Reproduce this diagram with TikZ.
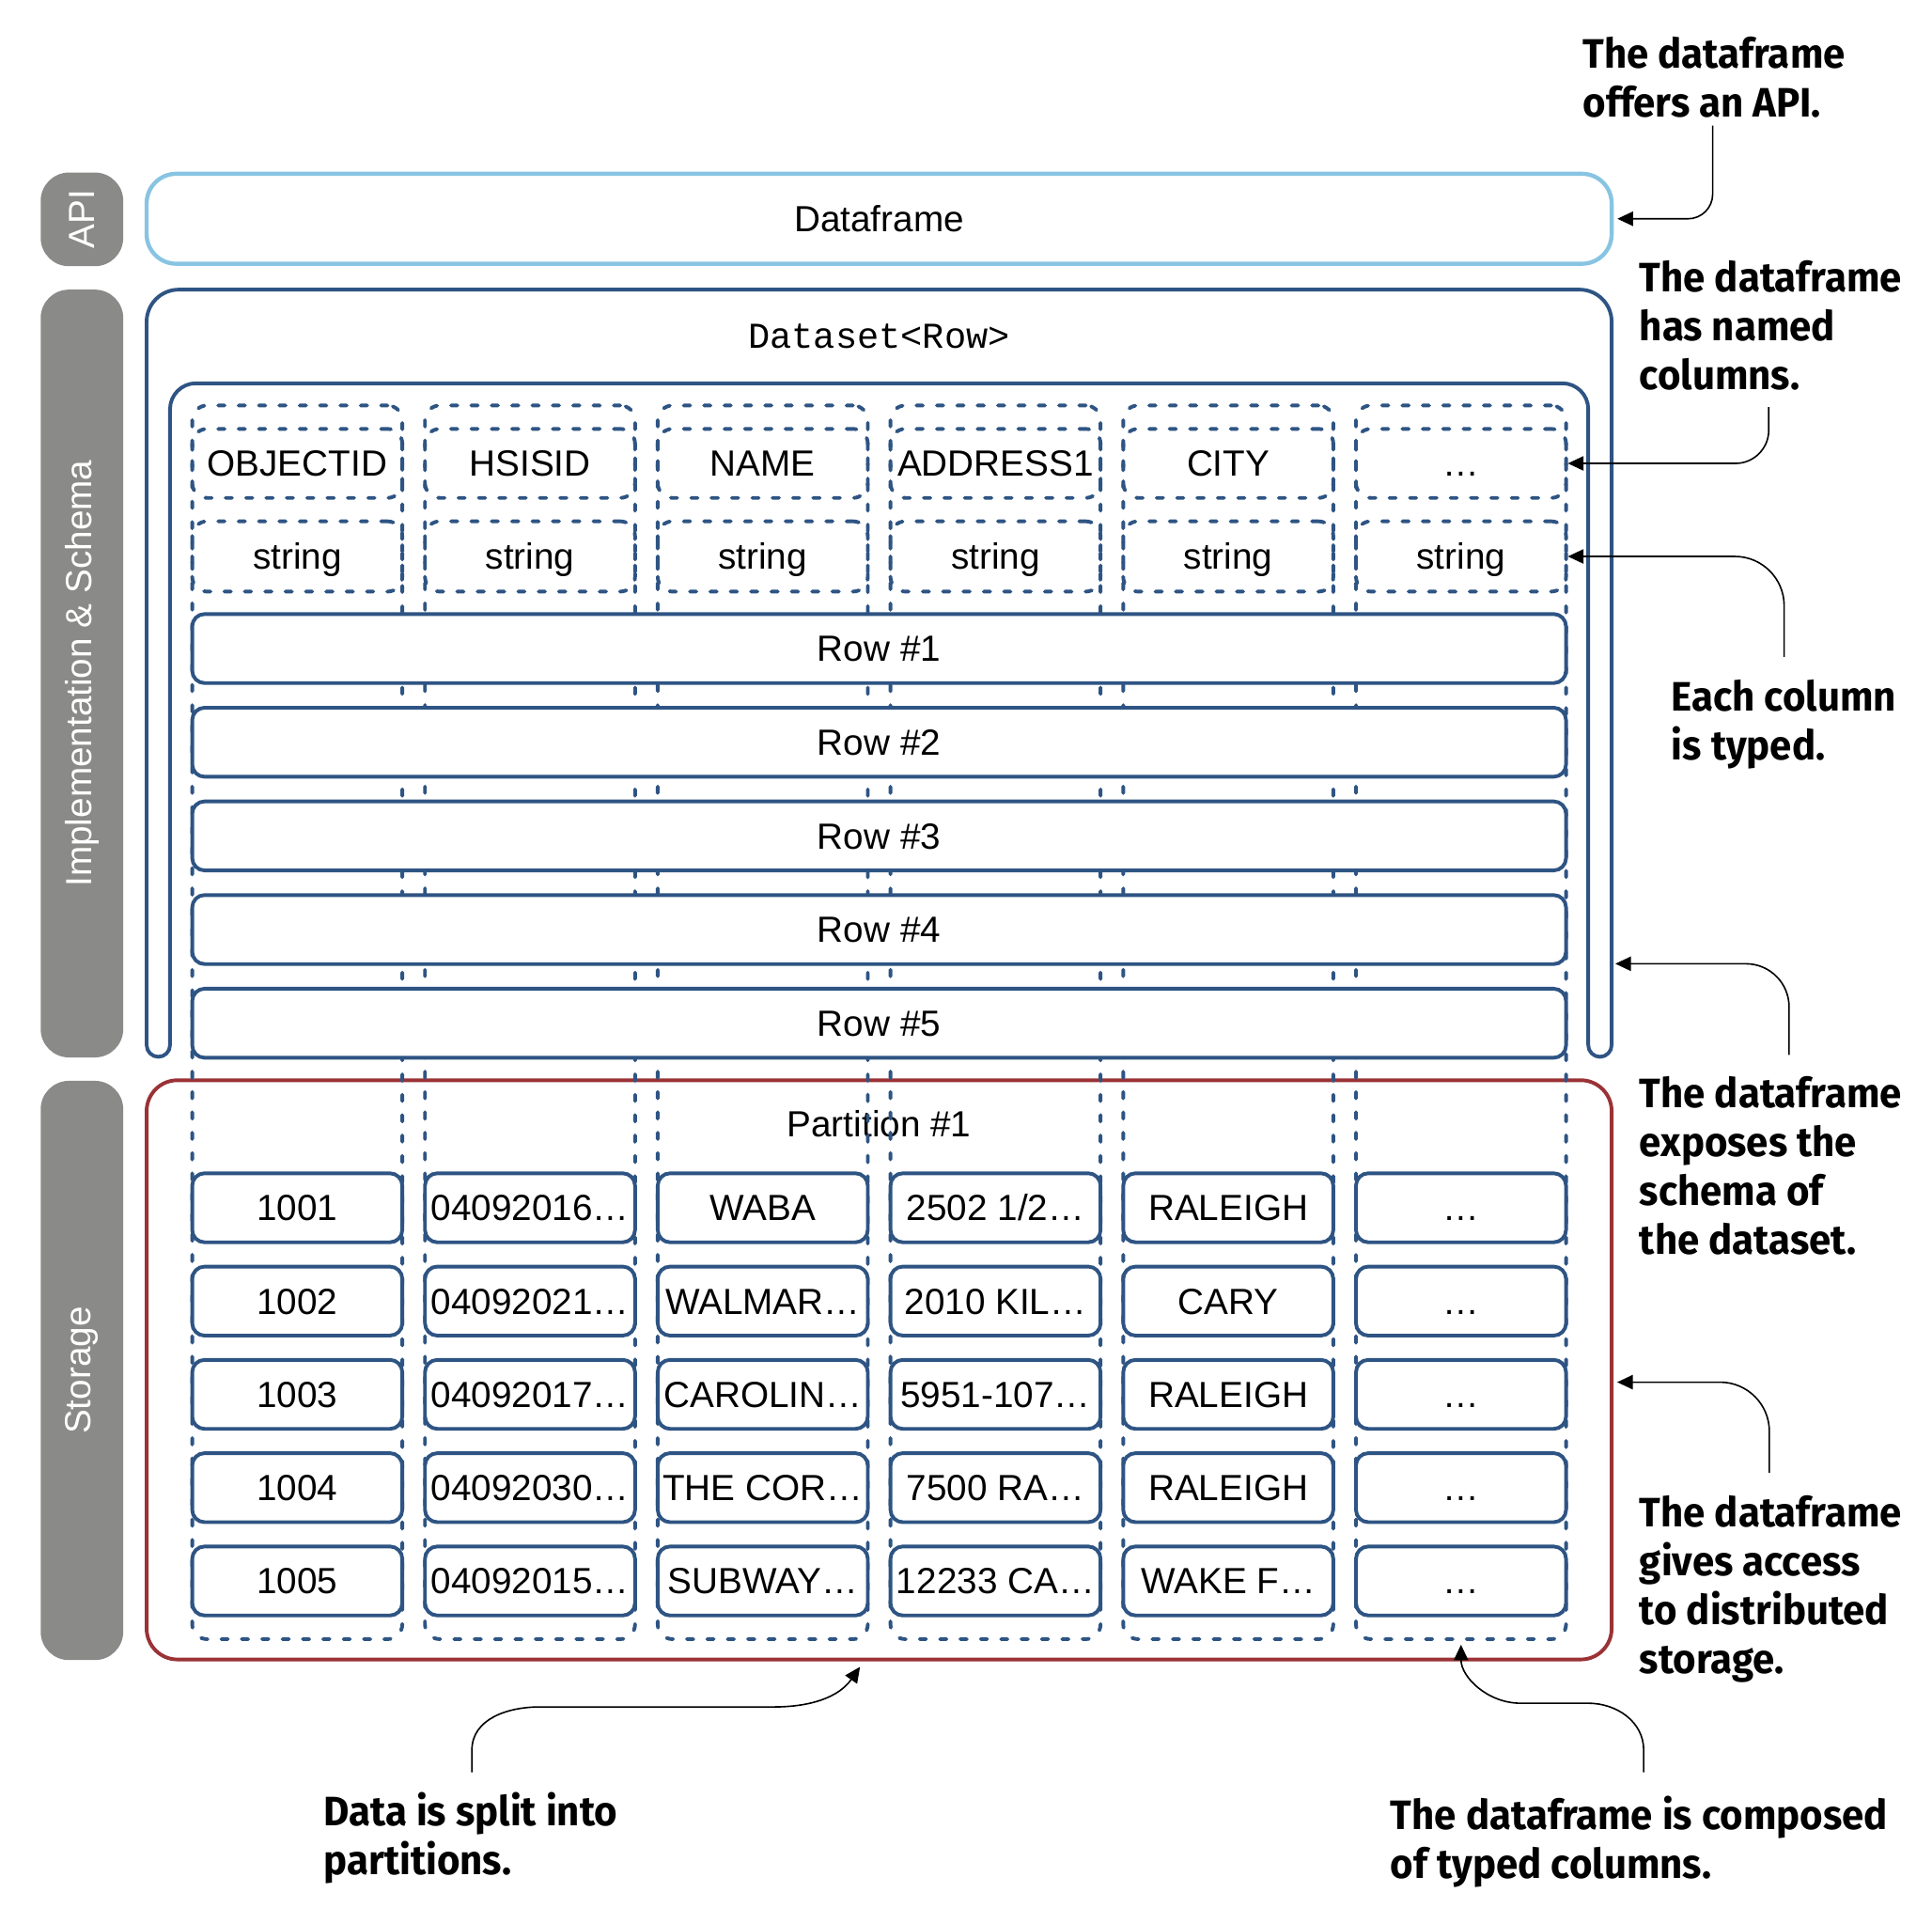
\documentclass[tikz,border=0pt]{standalone}
\usepackage{fontspec}
\setmainfont{Liberation Sans}
\setmonofont{Liberation Mono}
\newfontfamily\notefont[FakeStretch=0.96]{Fira Sans}
\usetikzlibrary{arrows.meta}
\definecolor{apiblue}{HTML}{88C4E2}
\definecolor{dsblue}{HTML}{2E5483}
\definecolor{partred}{HTML}{9A3236}
\definecolor{sidegray}{HTML}{8A8B89}
\tikzset{
  side/.style={fill=sidegray,rounded corners=2.3mm,rotate=90,minimum height=6.7mm,inner sep=0pt,text=white},
  cell/.style={draw=dsblue,line width=0.85pt,rounded corners=1mm,fill=white,inner sep=0pt,text height=6pt,text depth=0pt},
  dashcell/.style={draw=dsblue,line width=0.85pt,dash pattern=on 1.5pt off 3.2pt,line cap=round,rounded corners=1.2mm,inner sep=0pt,minimum width=17.05mm,text height=6pt,text depth=0pt},
  note/.style={anchor=north west,align=left,inner sep=0pt,font=\notefont\bfseries\fontsize{9.5}{11.25}\selectfont},
  pointer/.style={-{Triangle[length=3.6pt,width=3.3pt]},line width=0.35pt}
}
\begin{document}
\begin{tikzpicture}[x=0.1mm,y=0.1mm,font=\fontsize{8.4}{10}\selectfont]
\useasboundingbox (0,0) rectangle (1568,-1548);
\pgfmathsetmacro{\colw}{188.9}
\node[side,minimum width=7.6mm] (sapi) at (66.5,-178) {API};
\node[side,minimum width=62.3mm] (simpl) at (66.5,-546.5) {Implementation \& Schema};
\node[side,minimum width=47mm] (sstore) at (66.5,-1112) {Storage};
\node[draw=apiblue,line width=0.95pt,rounded corners=2.4mm,minimum width=118.9mm,minimum height=7.3mm] (api) at (713.5,-177.5) {Dataframe};
\draw[dsblue,line width=0.85pt,rounded corners=2.6mm](119,-848)--(119,-235)--(1308,-235)--(1308,-848);
\draw[dsblue,line width=0.85pt,rounded corners=2.1mm](1289,-848)--(1289,-311)--(138,-311)--(138,-848);
\draw[dsblue,line width=0.85pt](119,-848)arc[start angle=180,end angle=360,radius=0.95mm];
\draw[dsblue,line width=0.85pt](1289,-848)arc[start angle=180,end angle=360,radius=0.95mm];
\node[font=\ttfamily\fontsize{8.4}{10}\selectfont] (dslbl) at (713.5,-273) {Dataset<Row>};
\coordinate (dsR) at (1311,-782);
\node[draw=partred,line width=0.85pt,rounded corners=2.5mm,minimum width=118.9mm,minimum height=47mm] (part) at (713.5,-1111.5) {};
\node (plbl) at (713.5,-912) {Partition \#1};
\foreach \i/\nm in {1/OBJECTID,2/HSISID,3/NAME,4/ADDRESS1,5/CITY,6/…}{
  \pgfmathsetmacro{\cx}{241.25+\colw*(\i-1)}
  \node[dashcell,minimum height=100.1mm] (col\i) at (\cx,-829.5) {};
  \node[dashcell,minimum height=5.6mm] (hd\i) at (\cx,-376) {\nm};
  \node[dashcell,minimum height=5.7mm] (ty\i) at (\cx,-451.5) {string};
}
\foreach \r in {1,...,5}{\node[cell,minimum width=111.5mm,minimum height=5.6mm] (row\r) at (713.5,{-526.25-76*(\r-1)}) {Row \#\r};}
\foreach \r/\va/\vb/\vc/\vd/\ve in {1/1001/04092016…/WABA/{2502 1/2…}/RALEIGH,2/1002/04092021…/WALMAR…/2010 KIL…/CARY,3/1003/04092017…/CAROLIN…/5951-107…/RALEIGH,4/1004/04092030…/THE COR…/7500 RA…/RALEIGH,5/1005/04092015…/SUBWAY…/12233 CA…/WAKE F…}{
  \foreach \i/\vt in {1/\va,2/\vb,3/\vc,4/\vd,5/\ve,6/…}{
    \node[cell,minimum width=17.05mm,minimum height=5.6mm] (c\r\i) at ({241.25+\colw*(\i-1)},{-980-75.7*(\r-1)}) {\vt};
  }
}
\node[note] (a1) at (1284,-29) {The dataframe\\offers an API.};
\node[note] (a2) at (1330,-211) {The dataframe\\has named\\columns.};
\node[note] (a3) at (1356,-551) {Each column\\is typed.};
\node[note] (a4) at (1330,-873) {The dataframe\\exposes the\\schema of\\the dataset.};
\node[note] (a5) at (1330,-1213) {The dataframe\\gives access\\to distributed\\storage.};
\node[note] (a6) at (262,-1454) {Data is split into\\partitions.};
\node[note] (a7) at (1128,-1457) {The dataframe is composed\\of typed columns.};
\draw[pointer,rounded corners=2mm](a1.south west)++(106,-6)|-([xshift=0.3mm]api.east);
\draw[pointer,rounded corners=2.7mm](a2.south west)++(105.5,-13)|-(hd6.east);
\draw[pointer,rounded corners=4mm](a3.north west)++(92,18)|-(ty6.east);
\draw[pointer,rounded corners=3.5mm](a4.north west)++(122,17)|-(dsR);
\draw[pointer,rounded corners=4mm](a5.north west)++(106,18)|-([xshift=0.3mm,yshift=-1mm]part.east);
\draw[pointer](a6.north west)++(121,16)--++(0,18)to[out=90,in=180]++(55,35)--++(190,0)to[out=0,in=235]([xshift=-1.55mm,yshift=-0.45mm]part.south);
\draw[pointer](a7.north west)++(206,19)--++(0,18)to[out=90,in=0]++(-45,38)--++(-55,0)to[out=180,in=-90]([yshift=-0.3mm]col6.south);
\end{tikzpicture}
\end{document}
